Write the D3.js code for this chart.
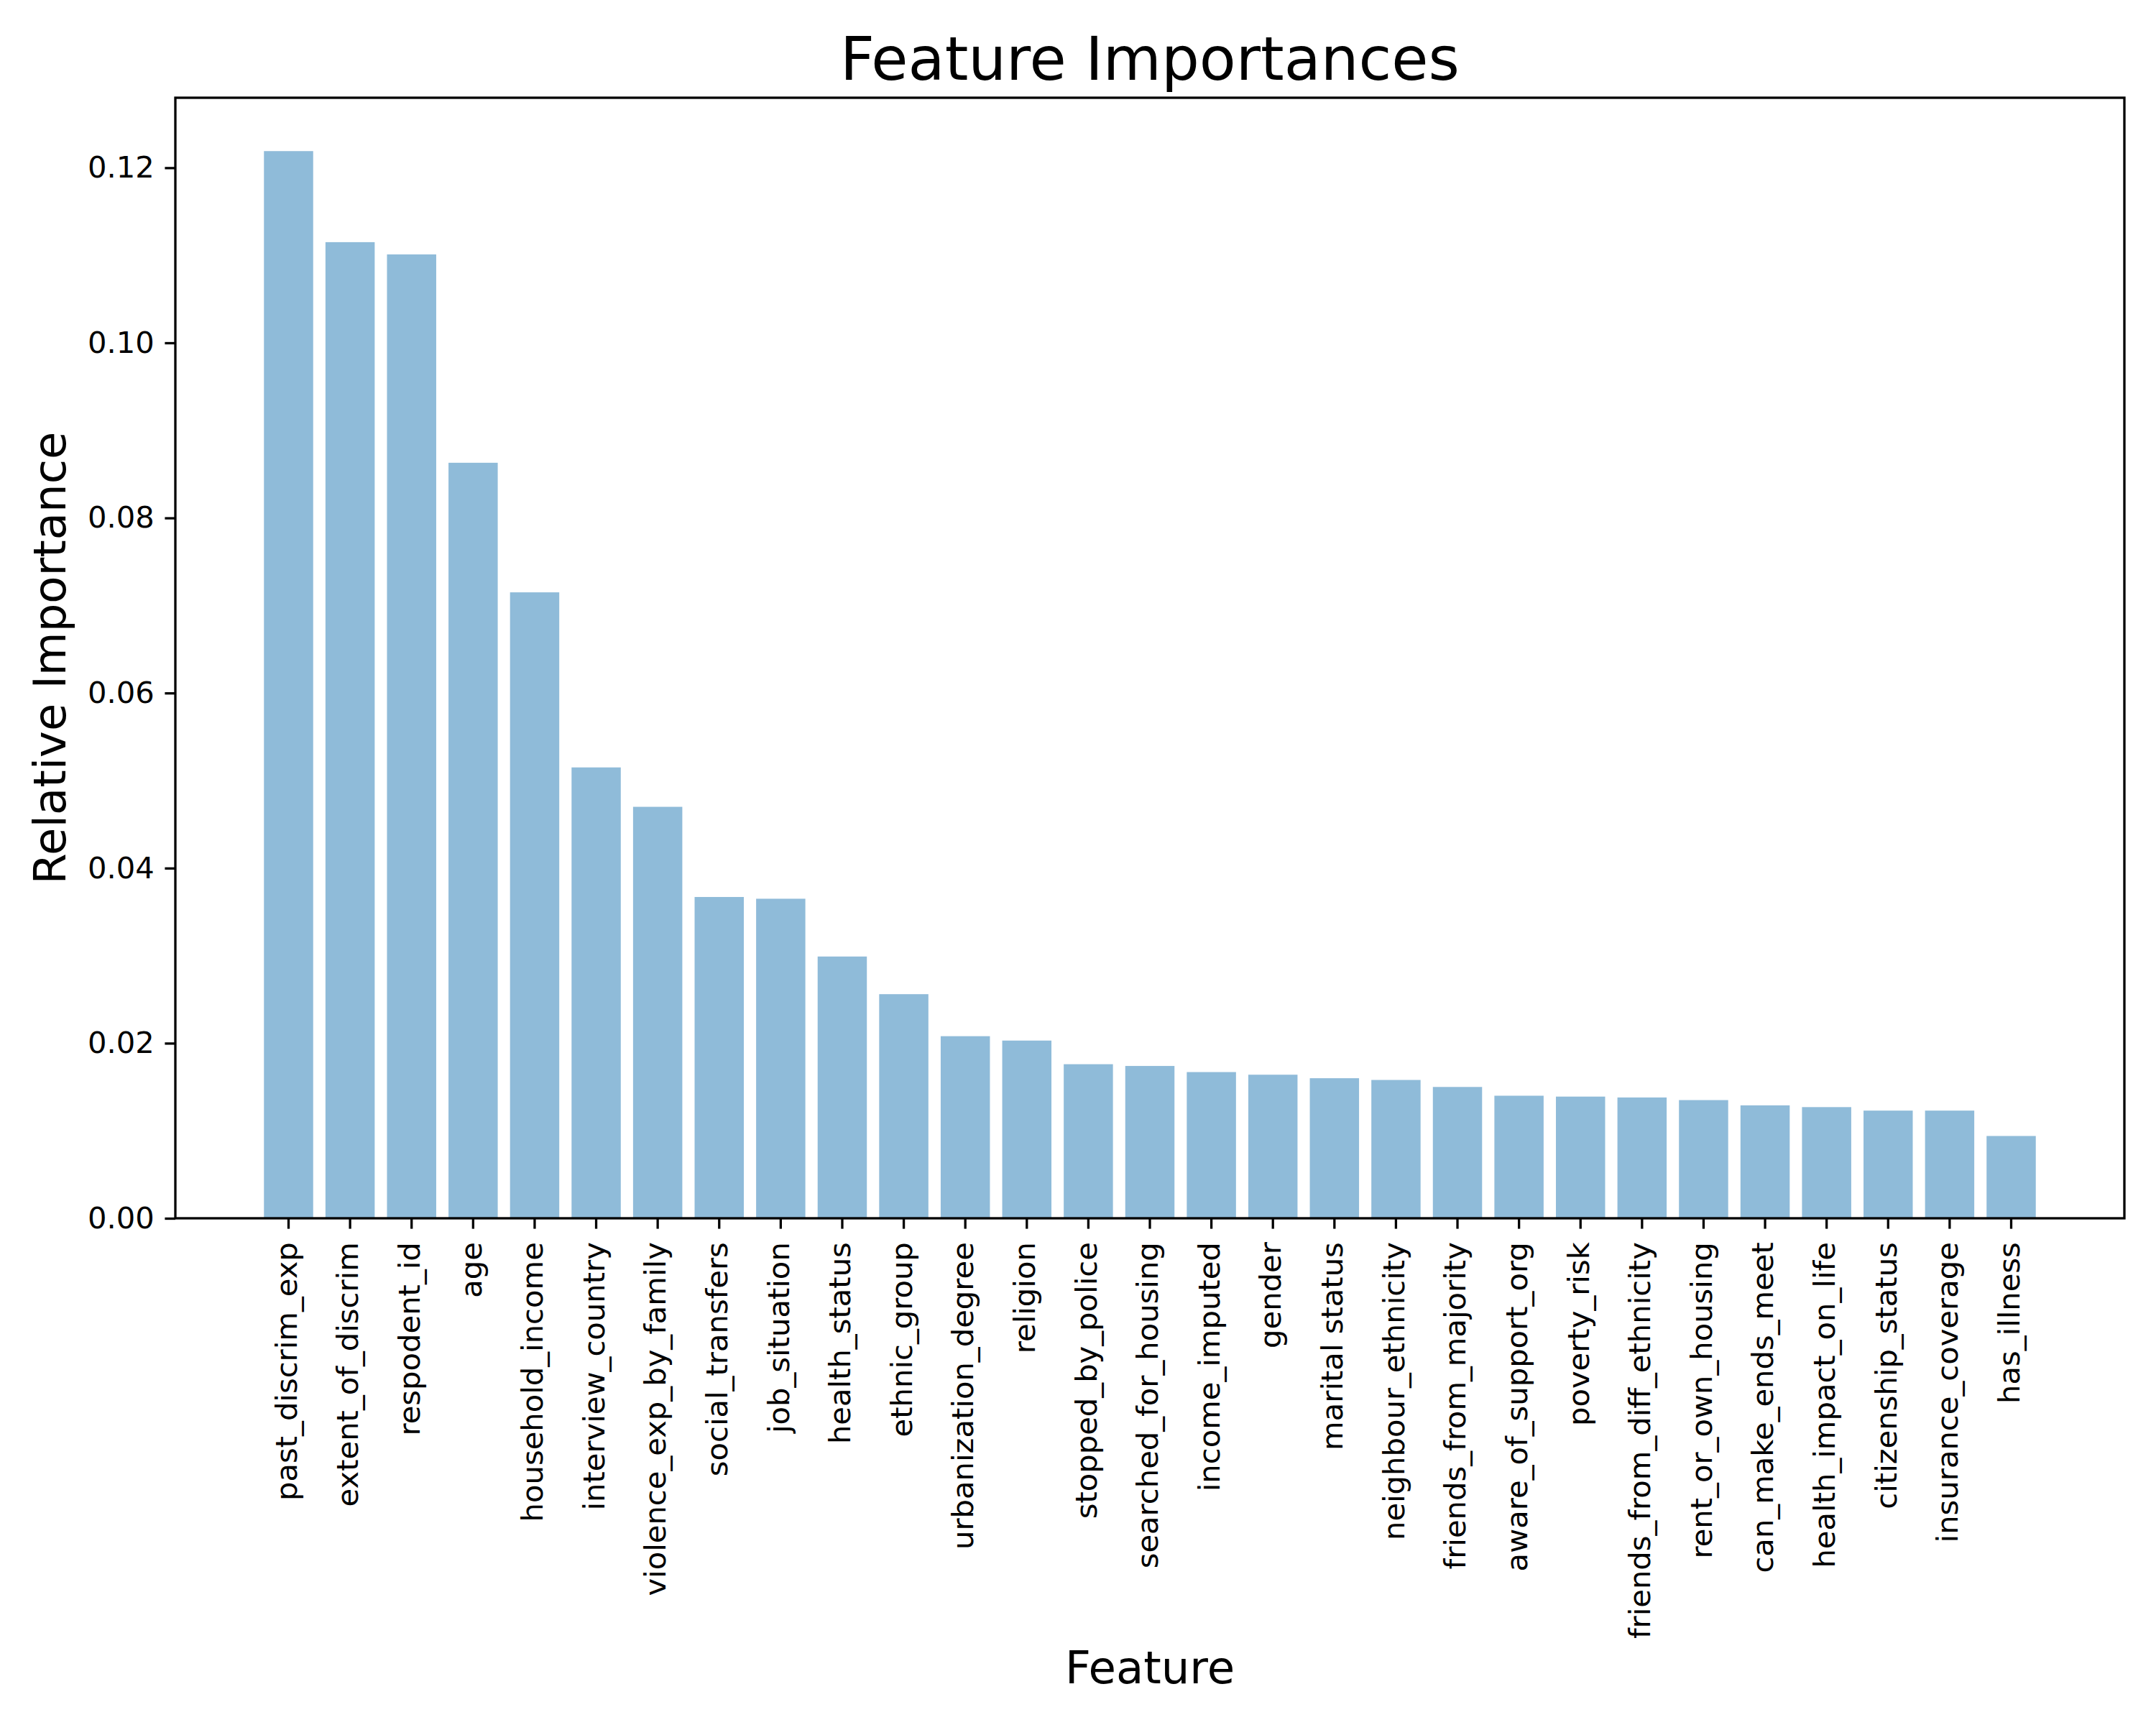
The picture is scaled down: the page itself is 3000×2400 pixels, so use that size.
<!DOCTYPE html>
<html>
<head>
<meta charset="utf-8">
<script src="https://cdn.jsdelivr.net/npm/d3@7"></script>
<style>
  body { margin: 0; background: white; }
  text { font-family: "DejaVu Sans", sans-serif; fill: black; }
</style>
</head>
<body>
<script>

// feature names, in the order they are drawn
var features = ['past_discrim_exp', 'extent_of_discrim', 'respodent_id', 'age',
  'household_income', 'interview_country', 'violence_exp_by_family', 'social_transfers',
  'job_situation', 'health_status', 'ethnic_group', 'urbanization_degree', 'religion',
  'stopped_by_police', 'searched_for_housing', 'income_imputed', 'gender', 'marital status',
  'neighbour_ethnicity', 'friends_from_majority', 'aware_of_support_org', 'poverty_risk',
  'friends_from_diff_ethnicity', 'rent_or_own_housing', 'can_make_ends_meet',
  'health_impact_on_life', 'citizenship_status', 'insurance_coverage', 'has_illness']

// importances
var importances = [0.1219, 0.1115, 0.1101, 0.0863, 0.0715, 0.0515, 0.0470, 0.0367,
  0.0365, 0.0299, 0.0256, 0.0208, 0.0203, 0.0176, 0.0174, 0.0167, 0.0164, 0.0160,
  0.0158, 0.0150, 0.0140, 0.0139, 0.0138, 0.0135, 0.0129, 0.0127, 0.0123, 0.0123, 0.0094]

var yTicks = [0, 0.02, 0.04, 0.06, 0.08, 0.10, 0.12]

var width = 3000,
    height = 2400;

// plot box (not "top"/"left": those are window globals)
var axLeft = 244, axRight = 2956, axTop = 136, axBottom = 1695;
var tickLen = 14.6, tickPad = 14.6, lw = 3.3;

var svg = d3.select("body").append("svg")
    .attr("width", width)
    .attr("height", height)
    .style("background", "white");

var data = features.map((f, i) => ({name: f, value: importances[i]}))

var x = d3.scaleBand()
    .domain(features)
    .range([axLeft, axRight])
    .paddingInner(0.2)
    .paddingOuter(1.44)

// same 5% headroom matplotlib puts on top
var y = d3.scaleLinear()
    .domain([0, d3.max(importances) * 1.05])
    .range([axBottom, axTop])

svg.selectAll("rect.bar")
    .data(data)
    .enter().append("rect")
    .attr("class", "bar")
    .attr("x", d => x(d.name))
    .attr("width", x.bandwidth())
    .attr("y", d => y(d.value))
    .attr("height", d => y(0) - y(d.value))
    .attr("fill", "#1f77b4")
    .attr("fill-opacity", 0.5)

// y axis
var yAxis = svg.append("g")
    .attr("transform", "translate(" + axLeft + ",0)")
    .call(d3.axisLeft(y).tickValues(yTicks).tickFormat(d3.format(".2f"))
      .tickSize(tickLen).tickPadding(tickPad))
yAxis.select(".domain").remove()
yAxis.selectAll("line").attr("stroke", "black").attr("stroke-width", lw)
yAxis.selectAll("text").attr("font-size", 41.7).attr("font-family", "DejaVu Sans")

// x axis, labels turned upright
var xAxis = svg.append("g")
    .attr("transform", "translate(0," + axBottom + ")")
    .call(d3.axisBottom(x).tickSize(tickLen).tickPadding(tickPad))
xAxis.select(".domain").remove()
xAxis.selectAll("line").attr("stroke", "black").attr("stroke-width", lw)
xAxis.selectAll("text")
    .attr("font-size", 41.7)
    .attr("font-family", "DejaVu Sans")
    .attr("text-anchor", "end")
    .attr("transform", "rotate(-90)")
    .attr("x", -(tickLen + tickPad + 4))
    .attr("y", 0)
    .attr("dy", "0.27em")

// frame
svg.append("rect")
    .attr("x", axLeft)
    .attr("y", axTop)
    .attr("width", axRight - axLeft)
    .attr("height", axBottom - axTop)
    .attr("fill", "none")
    .attr("stroke", "black")
    .attr("stroke-width", lw)

svg.append("text")
    .attr("x", (axLeft + axRight) / 2)
    .attr("y", 111)
    .attr("text-anchor", "middle")
    .attr("font-size", 83.3)
    .text("Feature Importances")

svg.append("text")
    .attr("x", (axLeft + axRight) / 2)
    .attr("y", 2342)
    .attr("text-anchor", "middle")
    .attr("font-size", 62.5)
    .text("Feature")

svg.append("text")
    .attr("transform", "translate(91," + (axTop + axBottom) / 2 + ") rotate(-90)")
    .attr("text-anchor", "middle")
    .attr("font-size", 62.5)
    .text("Relative Importance")

</script>
</body>
</html>
